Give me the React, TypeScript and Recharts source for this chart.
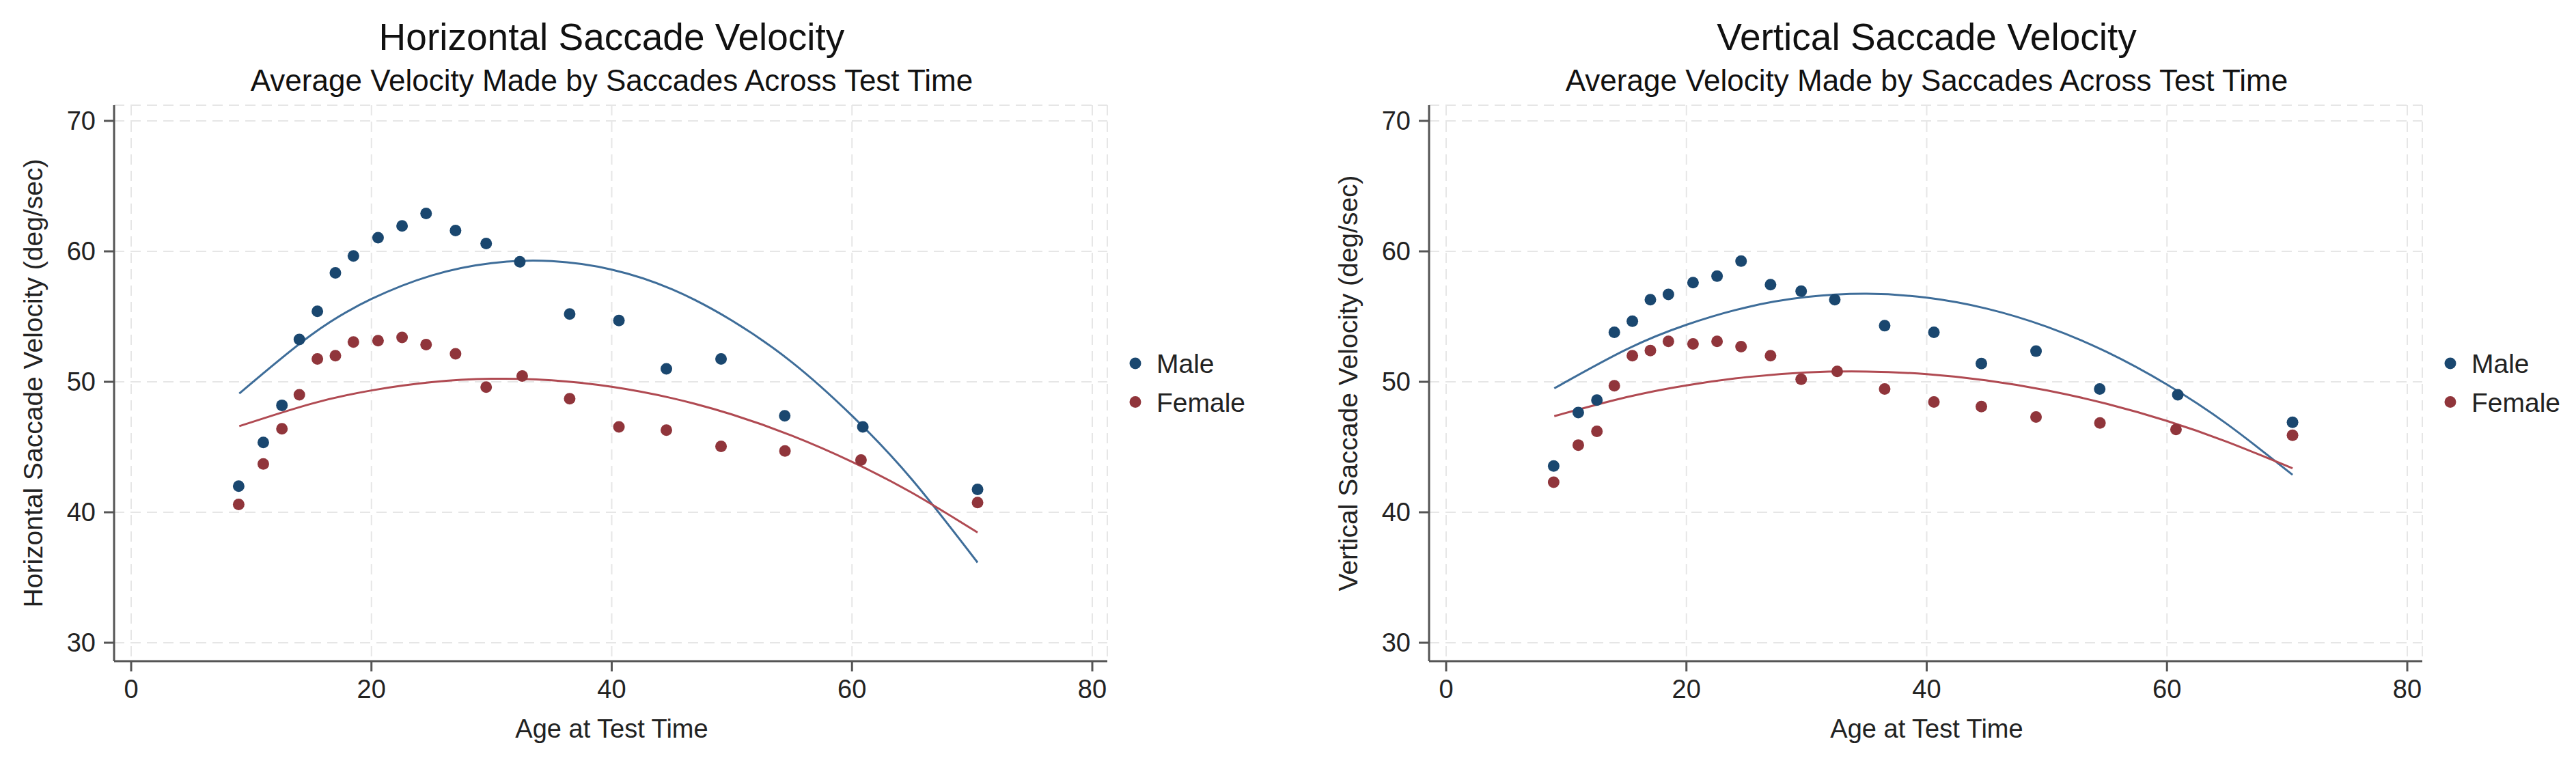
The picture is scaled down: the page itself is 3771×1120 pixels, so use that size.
import { CartesianGrid, ComposedChart, Line, Scatter, XAxis, YAxis } from 'recharts'

// ages of the binned points (means per bin)
const ageMale = [8.95, 11.0, 12.55, 14.0, 15.5, 17.0, 18.5, 20.55, 22.55, 24.55, 27.0, 29.55, 32.35, 36.5, 40.6, 44.55, 49.1, 54.4, 60.9, 70.45]
const ageFemale = [8.95, 11.0, 12.55, 14.0, 15.5, 17.0, 18.5, 20.55, 22.55, 24.55, 27.0, 29.55, 32.55, 36.5, 40.6, 44.55, 49.1, 54.42, 60.75, 70.45]

const horizMale = [42.0, 45.35, 48.2, 53.25, 55.4, 58.35, 59.65, 61.05, 61.95, 62.9, 61.6, 60.6, 59.2, 55.2, 54.7, 51.0, 51.75, 47.4, 46.55, 41.75]
const horizFemale = [40.6, 43.7, 46.4, 49.0, 51.75, 52.0, 53.05, 53.15, 53.4, 52.85, 52.15, 49.6, 50.45, 48.7, 46.55, 46.3, 45.05, 44.7, 44.0, 40.75]
const vertMale = [43.55, 47.65, 48.6, 53.8, 54.65, 56.3, 56.7, 57.6, 58.1, 59.25, 57.45, 56.95, 56.3, 54.3, 53.8, 51.4, 52.35, 49.45, 49.0, 46.9]
const vertFemale = [42.3, 45.15, 46.2, 49.7, 52.0, 52.4, 53.1, 52.9, 53.1, 52.7, 52.0, 50.2, 50.8, 49.45, 48.45, 48.1, 47.3, 46.85, 46.35, 45.9]

// quadratic fit curves, read at these ages
const fitAge = [9, 15, 20, 25, 30, 35, 40, 45, 50, 55, 60, 65, 70.45]
const horizMaleFit = [49.1, 53.6, 56.35, 58.15, 59.1, 59.25, 58.6, 57.1, 54.7, 51.5, 47.4, 42.5, 36.15]
const horizFemaleFit = [46.6, 48.32, 49.34, 49.97, 50.23, 50.12, 49.62, 48.75, 47.5, 45.87, 43.87, 41.49, 38.45]
const vertMaleFit = [49.5, 52.48, 54.37, 55.71, 56.5, 56.75, 56.45, 55.61, 54.22, 52.28, 49.79, 46.76, 42.87]
const vertFemaleFit = [47.37, 48.82, 49.73, 50.36, 50.72, 50.79, 50.59, 50.11, 49.35, 48.31, 47.0, 45.4, 43.37]

const xTicks = [0, 20, 40, 60, 80]
const yTicks = [30, 40, 50, 60, 70]
const legendNames = ['Male', 'Female']

const MALE = '#1a476f'
const FEMALE = '#90353b'
const MALE_LINE = '#3e6d99'
const FEMALE_LINE = '#b04a52'
const FONT = "'Liberation Sans', Arial, Helvetica, sans-serif"

const toPoints = (ages: number[], vals: number[]) => ages.map((age, i) => ({ age, v: vals[i] }))

const dot = (color: string) => (p: any) => <circle cx={p.cx} cy={p.cy} r={8.5} fill={color} />

interface PanelProps {
  left: number
  title: string
  yTitle: string
  male: number[]
  female: number[]
  maleFit: number[]
  femaleFit: number[]
}

function Panel({ left, title, yTitle, male, female, maleFit, femaleFit }: PanelProps) {
  const axisStyle = { stroke: '#555', strokeWidth: 3 }
  const tickStyle = { fill: '#222', fontSize: 38, fontFamily: FONT }
  return (
    <div style={{ position: 'absolute', left, top: 0, width: 1900, height: 1120 }}>
      <ComposedChart width={1900} height={1120} margin={{ top: 154, right: 279, bottom: 92, left: 107 }}>
        <CartesianGrid stroke='#e6e6e6' strokeWidth={2} strokeDasharray='15 9' />
        <XAxis
          dataKey='age'
          type='number'
          domain={[0, 80]}
          ticks={xTicks}
          padding={{ left: 25, right: 22 }}
          height={60}
          tickSize={15}
          tickMargin={12}
          axisLine={axisStyle}
          tickLine={axisStyle}
          tick={tickStyle}
        />
        <YAxis
          dataKey='v'
          type='number'
          domain={[30, 70]}
          ticks={yTicks}
          padding={{ top: 23, bottom: 27 }}
          width={60}
          tickSize={15}
          tickMargin={12}
          axisLine={axisStyle}
          tickLine={axisStyle}
          tick={tickStyle}
        />
        <Scatter name='Male' data={toPoints(ageMale, male)} fill={MALE} shape={dot(MALE)} isAnimationActive={false} />
        <Scatter name='Female' data={toPoints(ageFemale, female)} fill={FEMALE} shape={dot(FEMALE)} isAnimationActive={false} />
        <Line data={toPoints(fitAge, maleFit)} dataKey='v' type='natural' stroke={MALE_LINE} strokeWidth={3} dot={false} legendType='none' isAnimationActive={false} />
        <Line data={toPoints(fitAge, femaleFit)} dataKey='v' type='natural' stroke={FEMALE_LINE} strokeWidth={3} dot={false} legendType='none' isAnimationActive={false} />
      </ComposedChart>
      <svg width={1900} height={1120} style={{ position: 'absolute', left: 0, top: 0, pointerEvents: 'none' }} fontFamily={FONT}>
        <text x={895.5} y={73} textAnchor='middle' fontSize={55} fill='#111'>{title}</text>
        <text x={895.5} y={133} textAnchor='middle' fontSize={44} fill='#111'>Average Velocity Made by Saccades Across Test Time</text>
        <text x={895.5} y={1080} textAnchor='middle' fontSize={38} fill='#222'>Age at Test Time</text>
        <text x={62} y={561} textAnchor='middle' fontSize={39} fill='#222' transform='rotate(-90 62 561)'>{yTitle}</text>
        {legendNames.map((name, i) => (
          <g key={name}>
            <circle cx={1662} cy={532 + i * 56.5} r={8.5} fill={i === 0 ? MALE : FEMALE} />
            <text x={1693} y={546 + i * 56.5} fontSize={39} fill='#222'>{name}</text>
          </g>
        ))}
      </svg>
    </div>
  )
}

export default function App() {
  return (
    <div style={{ position: 'absolute', left: 0, top: 0, width: 3771, height: 1120, overflow: 'hidden', background: '#fff' }}>
      <Panel
        left={0}
        title='Horizontal Saccade Velocity'
        yTitle='Horizontal Saccade Velocity (deg/sec)'
        male={horizMale}
        female={horizFemale}
        maleFit={horizMaleFit}
        femaleFit={horizFemaleFit}
      />
      <Panel
        left={1925}
        title='Vertical Saccade Velocity'
        yTitle='Vertical Saccade Velocity (deg/sec)'
        male={vertMale}
        female={vertFemale}
        maleFit={vertMaleFit}
        femaleFit={vertFemaleFit}
      />
    </div>
  )
}
